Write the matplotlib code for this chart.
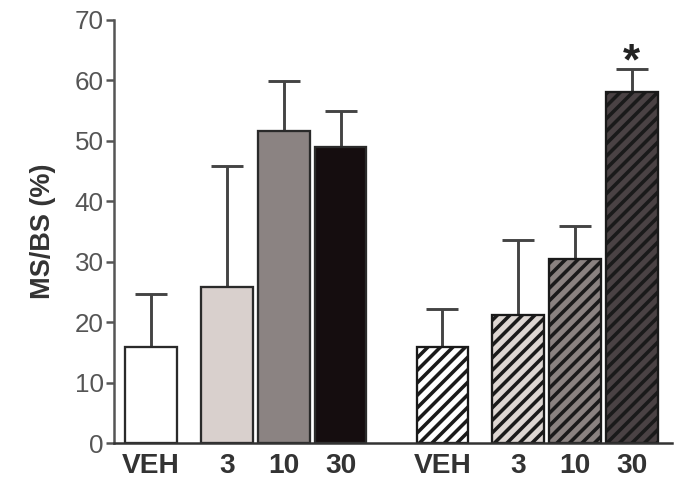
import numpy as np
import matplotlib
matplotlib.use('Agg')
import matplotlib.pyplot as plt

plt.rcParams['font.family'] = ['Liberation Sans', 'DejaVu Sans']
plt.rcParams['hatch.linewidth'] = 1.7

# datos
etiquetas = ['VEH', '3', '10', '30']
medias_solo = [15.9, 25.8, 51.7, 49.0]
errores_solo = [8.8, 20.1, 8.2, 6.0]
medias_comb = [15.9, 21.2, 30.4, 58.0]
errores_comb = [6.3, 12.4, 5.5, 3.9]
significativo_comb = [False, False, False, True]

colores_solo = ['#ffffff', '#d9d0cd', '#8b8382', '#150d0f']
colores_comb = ['#ffffff', '#ddd6d2', '#8a8280', '#4a4244']

# posiciones dentro de cada grupo
pos_grupo = np.array([0, 1.33, 2.33, 3.33])
x1 = pos_grupo
x2 = pos_grupo + 5.12
ancho = 0.91

fig = plt.figure(figsize=(4.5, 3.2467), dpi=150)
ax = fig.add_axes([0.169, 0.0903, 0.827, 0.8687])

ax.errorbar(x1, medias_solo, yerr=[np.zeros(4), errores_solo], fmt='none',
            ecolor='#444444', elinewidth=1.4, capsize=7.7, capthick=1.4, zorder=1)
ax.errorbar(x2, medias_comb, yerr=[np.zeros(4), errores_comb], fmt='none',
            ecolor='#444444', elinewidth=1.4, capsize=7.7, capthick=1.4, zorder=1)

ax.bar(x1, medias_solo, width=ancho, color=colores_solo, edgecolor='#2a2a2a',
       linewidth=1.1, zorder=2)
ax.bar(x2, medias_comb, width=ancho, color=colores_comb, edgecolor='#1a1a1a',
       linewidth=1.1, hatch='////', zorder=2)

# asterisco de significancia
for xi, m, e, s in zip(x2, medias_comb, errores_comb, significativo_comb):
    if s:
        ax.annotate('*', (xi, m + e), xytext=(0, -7), textcoords='offset points',
                    ha='center', va='bottom', fontsize=21, fontweight='bold',
                    color='#222222')

ax.set_ylim(0, 70)
ax.set_xlim(-0.65, 9.16)
ax.set_yticks(np.arange(0, 71, 10))
ax.set_xticks(np.concatenate([x1, x2]))
ax.set_xticklabels(etiquetas + etiquetas, fontsize=13.5, fontweight='bold', color='#333333')
ax.set_ylabel('MS/BS (%)', fontsize=13, fontweight='bold', color='#333333', labelpad=9)

for lado in ['top', 'right']:
    ax.spines[lado].set_visible(False)
ax.spines['left'].set_color('#555555')
ax.spines['left'].set_linewidth(1.2)
ax.spines['bottom'].set_color('#333333')
ax.spines['bottom'].set_linewidth(1.2)
ax.tick_params(axis='y', length=4, width=1.2, color='#555555', labelsize=12.5,
               labelcolor='#555555', pad=1)
ax.tick_params(axis='x', length=0, pad=5)

fig.savefig('out.png', dpi=150)
